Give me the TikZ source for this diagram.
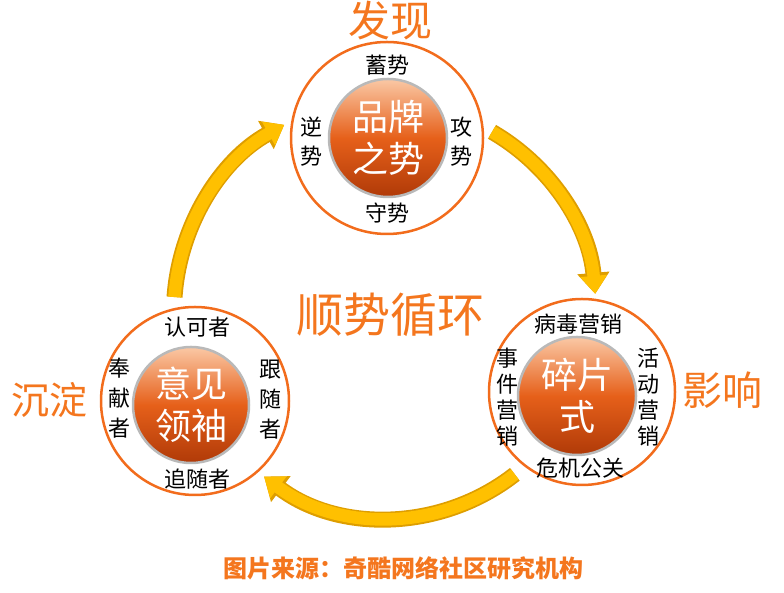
\documentclass[tikz,border=0pt]{standalone}
\usepackage{fontspec}
\newfontfamily\cjk{Noto Sans CJK SC}
\usetikzlibrary{positioning,arrows.meta}
\definecolor{ringorange}{RGB}{242,108,28}
\definecolor{titleorange}{RGB}{244,118,30}
\definecolor{ballTop}{RGB}{250,200,165}
\definecolor{ballMid}{RGB}{230,96,26}
\definecolor{ballBot}{RGB}{176,58,8}
\definecolor{flowyellow}{RGB}{255,192,0}
\definecolor{flowedge}{RGB}{222,158,0}

\begin{document}
\begin{tikzpicture}[x=1pt,y=1pt,
  ring/.style={circle,draw=ringorange,line width=2.5pt,fill=white,minimum size=#1,inner sep=0pt},
  ball/.style={circle,draw=gray!55,line width=2.5pt,shading=axis,top color=ballTop,bottom color=ballBot,middle color=ballMid,
    minimum size=#1,inner sep=0pt,text=white,align=center,font=\cjk\fontsize{36}{42}\selectfont},
  lbl/.style={font=\cjk\fontsize{22}{29}\selectfont,align=center,inner sep=0pt},
  heading/.style={text=titleorange,font=\cjk\fontsize{40}{40}\selectfont,inner sep=0pt},
  flowback/.style={line width=16pt,color=flowedge,-{Triangle[length=21pt,width=31pt]}},
  flow/.style={line width=12.5pt,color=flowyellow,-{Triangle[length=18pt,width=26pt]}}]
\useasboundingbox (0,0) rectangle (784,593);
% cycle arrows
\coordinate (cyc) at (388,281);
\draw[flowback] ([shift={(60:208)}]cyc) arc[start angle=60,end angle=5,radius=208];
\draw[flow] ([shift={(60:208)}]cyc) arc[start angle=60,end angle=5,radius=208];
\draw[flowback] ([shift={(-52:206)}]cyc) arc[start angle=-52,end angle=-127,radius=206];
\draw[flow] ([shift={(-52:206)}]cyc) arc[start angle=-52,end angle=-127,radius=206];
\draw[flowback] ([shift={(176:214)}]cyc) arc[start angle=176,end angle=119,radius=214];
\draw[flow] ([shift={(176:214)}]cyc) arc[start angle=176,end angle=119,radius=214];
% brand
\node[ring=192] (brand) at (387,455) {};
\node[ball=118] (brandcore) at (388,455) {品牌\\之势};
\node[lbl] (xushi) at ([yshift=-24]brand.north) {蓄势};
\node[lbl] (nishi) at ([xshift=22,yshift=-4]brand.west) {逆\\势};
\node[lbl] (gongshi) at ([xshift=-23,yshift=-4]brand.east) {攻\\势};
\node[lbl] (shoushi) at ([yshift=22]brand.south) {守势};
% fragments
\node[ring=186] (frag) at (582,201) {};
\node[ball=118] (fragcore) at (577,197) {碎片\\式};
\node[lbl] (bingdu) at ([xshift=-4,yshift=-26]frag.north) {病毒营销};
\node[lbl,font=\cjk\fontsize{22}{26}\selectfont] (shijian) at ([xshift=20,yshift=-5]frag.west) {事\\件\\营\\销};
\node[lbl,font=\cjk\fontsize{22}{26}\selectfont] (huodong) at ([xshift=-28,yshift=-5]frag.east) {活\\动\\营\\销};
\node[lbl] (weiji) at ([xshift=-2,yshift=18]frag.south) {危机公关};
% opinion leaders
\node[ring=188] (opinion) at (195,192) {};
\node[ball=116] (opinioncore) at (191,188) {意见\\领袖};
\node[lbl] (renke) at ([xshift=2,yshift=-21]opinion.north) {认可者};
\node[lbl,font=\cjk\fontsize{22}{30}\selectfont] (fengxian) at ([xshift=20,yshift=3]opinion.west) {奉\\献\\者};
\node[lbl,font=\cjk\fontsize{22}{30}\selectfont] (gensui) at ([xshift=-20,yshift=1]opinion.east) {跟\\随\\者};
\node[lbl] (zhuisui) at ([xshift=2,yshift=17]opinion.south) {追随者};
% titles
\node[heading,font=\cjk\fontsize{42}{42}\selectfont] (faxian) at (390,572) {发现};
\node[heading,font=\cjk\fontsize{38}{38}\selectfont] (chendian) at (50,193) {沉淀};
\node[heading] (yingxiang) at (722,203) {影响};
\node[heading,font=\cjk\fontsize{47}{47}\selectfont] (shunshi) at (390,278) {顺势循环};
\node[heading,font=\cjk\bfseries\fontsize{24}{24}\selectfont] (source) at (403,25) {图片来源：奇酷网络社区研究机构};
\end{tikzpicture}
\end{document}
